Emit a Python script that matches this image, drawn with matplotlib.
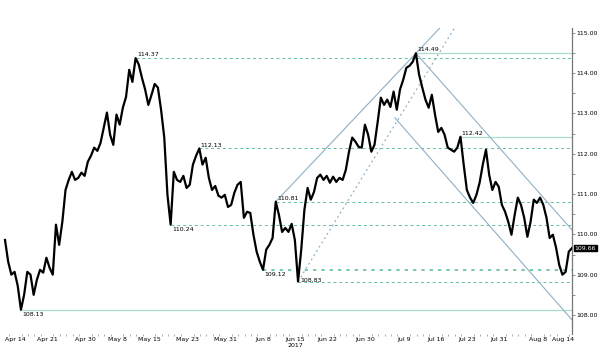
import numpy as np
import matplotlib.pyplot as plt

# USD/JPY, one close every half trading day, starting 2017-04-12
start = '2017-04-12'
step = 0.5
close = [
    109.86, 109.32, 109.00, 109.07, 108.72, 108.13, 108.50, 109.07, 109.00, 108.50,
    108.87, 109.12, 109.05, 109.42, 109.17, 109.00, 110.24, 109.74, 110.31, 111.10,
    111.35, 111.55, 111.35, 111.40, 111.53, 111.45, 111.80, 111.95, 112.15, 112.07,
    112.27, 112.64, 113.02, 112.47, 112.22, 112.97, 112.72, 113.14, 113.41, 114.08,
    113.78, 114.37, 114.21, 113.88, 113.59, 113.21, 113.46, 113.73, 113.64, 113.09,
    112.40, 110.98, 110.24, 111.55, 111.35, 111.30, 111.45, 111.15, 111.23, 111.73,
    111.95, 112.13, 111.73, 111.90, 111.40, 111.10, 111.20, 110.96, 110.91, 110.98,
    110.68, 110.73, 111.03, 111.23, 111.30, 110.41, 110.56, 110.53, 109.99, 109.57,
    109.32, 109.12, 109.62, 109.74, 109.91, 110.81, 110.48, 110.06, 110.16, 110.06,
    110.26, 109.86, 108.83, 109.62, 110.61, 111.15, 110.86, 111.05, 111.40, 111.48,
    111.35, 111.45, 111.28, 111.43, 111.30, 111.40, 111.35, 111.60, 112.05, 112.40,
    112.30, 112.17, 112.15, 112.72, 112.47, 112.05, 112.22, 112.79, 113.39, 113.21,
    113.34, 113.16, 113.54, 113.09, 113.59, 113.83, 114.13, 114.18, 114.28, 114.49,
    113.96, 113.64, 113.34, 113.14, 113.46, 112.97, 112.54, 112.64, 112.47, 112.15,
    112.10, 112.05, 112.15, 112.42, 111.73, 111.10, 110.91, 110.78, 110.98, 111.28,
    111.73, 112.10, 111.48, 111.10, 111.30, 111.18, 110.73, 110.56, 110.31, 109.99,
    110.48, 110.91, 110.73, 110.41, 109.94, 110.31, 110.86, 110.78, 110.91, 110.73,
    110.41, 109.91, 109.99, 109.67, 109.24, 109.00, 109.07, 109.57, 109.66,
]

tick_dates = ['2017-04-14', '2017-04-21', '2017-05-01', '2017-05-08', '2017-05-15',
              '2017-05-23', '2017-05-31', '2017-06-08', '2017-06-15', '2017-06-22',
              '2017-06-30', '2017-07-10', '2017-07-17', '2017-07-24', '2017-07-31',
              '2017-08-08', '2017-08-14']
tick_labels = ['Apr 14', 'Apr 21', 'Apr 30', 'May 8', 'May 15', 'May 23', 'May 31',
               'Jun 8', 'Jun 15\n2017', 'Jun 22', 'Jun 30', 'Jul 9', 'Jul 16', 'Jul 23',
               'Jul 31', 'Aug 8', 'Aug 14']

# marked highs / lows and the trading day they were set
dashed_levels = [114.37, 112.13, 110.24, 110.81, 109.12, 108.83]
dashed_days = [20.5, 30.5, 26.0, 42.5, 40.5, 46.0]
solid_levels = [114.49, 112.42, 108.13]
solid_days = [64.5, 71.5, 2.5]
label_below = [110.24, 109.12, 108.13]

# channels (day, price) anchors
up_a, up_b = (42.5, 110.81), (64.5, 114.49)
dot_a, dot_slope = (46.0, 108.83), 0.256
dn_upper = [(64.5, 114.49), (89.0, 110.11)]
dn_lower = [(61.2, 112.89), (89.0, 107.88)]

close = np.array(close)
t = np.arange(len(close)) * step
t_end = t[-1]
ymin, ymax = 107.53, 115.12

dash_c = '#63bf9c'
solid_c = '#a9ddcc'
line_c = '#8fb0c6'

fig = plt.figure(figsize=(6, 3.53), dpi=100)
ax = fig.add_axes([0.0, 0.054, 0.9533, 0.867])

for lv, d in zip(dashed_levels, dashed_days):
    if lv == 109.12:
        ax.plot([d, t_end], [lv, lv], color=dash_c, lw=1.2, ls=(0, (2, 3)), zorder=1)
    else:
        ax.plot([d, t_end], [lv, lv], color=dash_c, lw=0.7, ls=(0, (3, 3)), zorder=1)
for lv, d in zip(solid_levels, solid_days):
    ax.plot([d, t_end], [lv, lv], color=solid_c, lw=0.9, zorder=1)

# up channel through the two highs, run to the top
s = (up_b[1] - up_a[1]) / (up_b[0] - up_a[0])
ax.plot([up_a[0], up_a[0] + (ymax - up_a[1]) / s], [up_a[1], ymax], color=line_c, lw=0.8, zorder=1)
ax.plot([dot_a[0], dot_a[0] + (ymax - dot_a[1]) / dot_slope], [dot_a[1], ymax],
        color=line_c, lw=0.9, ls=(0, (1.5, 2.5)), zorder=1)
# down channel
ax.plot(*zip(*dn_upper), color=line_c, lw=0.8, zorder=1)
ax.plot(*zip(*dn_lower), color=line_c, lw=0.8, zorder=1)

ax.plot(t, close, color='black', lw=1.6, zorder=3)

for lv, d in zip(dashed_levels + solid_levels, dashed_days + solid_days):
    if lv == 108.83:
        ax.text(d + 0.3, lv + 0.03, '%.2f' % lv, fontsize=4.5, ha='left', va='center')
    elif lv in label_below:
        ax.text(d + 0.2, lv - 0.06, '%.2f' % lv, fontsize=4.5, ha='left', va='top')
    else:
        ax.text(d + 0.2, lv + 0.02, '%.2f' % lv, fontsize=4.5, ha='left', va='bottom')

ax.set_xlim(-0.785, t_end)
ax.set_ylim(ymin, ymax)

ax.yaxis.tick_right()
ax.set_yticks(np.arange(108, 115.5, 1))
ax.set_yticks(np.arange(108.5, 115, 1), minor=True)
ax.yaxis.set_major_formatter(plt.FormatStrFormatter('%.2f'))
ax.tick_params(axis='y', which='both', length=2, width=0.6, color='#777777',
               labelsize=4.5, pad=1)

xpos = [np.busday_count(start, d) - 0.4 for d in tick_dates]
ax.set_xticks(xpos)
ax.set_xticklabels(tick_labels)
ax.set_xticks(np.arange(0.6, t_end, 1.0), minor=True)
ax.tick_params(axis='x', which='major', length=0, labelsize=4.5, pad=2)
ax.tick_params(axis='x', which='minor', length=1.5, width=0.5, color='#888888')

for side in ['top', 'left', 'bottom']:
    ax.spines[side].set_visible(False)
ax.spines['right'].set_color('#777777')
ax.spines['right'].set_linewidth(0.9)

ax.annotate('%.2f' % close[-1], xy=(1.0, close[-1]), xycoords=('axes fraction', 'data'),
            xytext=(2, 0), textcoords='offset points', fontsize=4.5, color='white',
            va='center', ha='left',
            bbox=dict(boxstyle='square,pad=0.15', fc='black', ec='black'))

fig.savefig('out.png', dpi=100)
